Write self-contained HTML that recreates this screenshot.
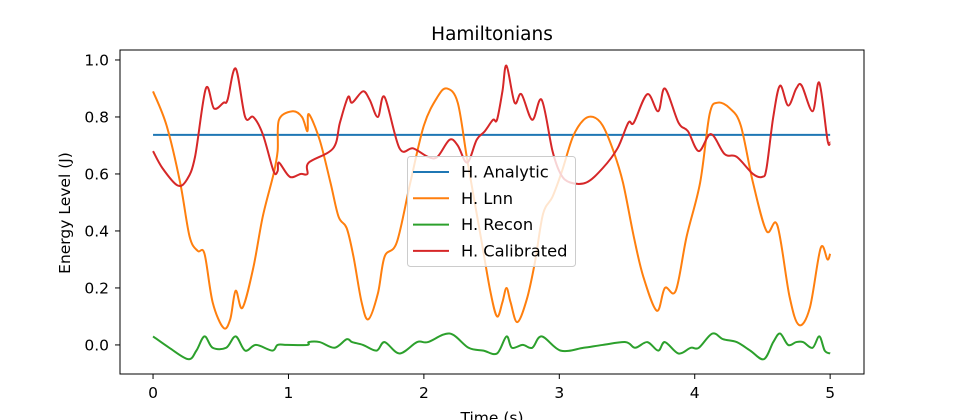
<!DOCTYPE html>
<html><head><meta charset="utf-8"><style>
body{margin:0;background:#fff;}
svg{display:block;font-family:"DejaVu Sans","Liberation Sans",sans-serif;}
</style></head><body>
<svg id="chart" width="960" height="420">
<rect x="0" y="0" width="960" height="420" fill="#fff"/>
<text x="492" y="40" text-anchor="middle" font-size="18.5">Hamiltonians</text>
<g id="plot"></g>
<g id="axes"></g>
<text x="492" y="423" text-anchor="middle" font-size="15.5">Time (s)</text>
<text transform="translate(70,213) rotate(-90)" text-anchor="middle" font-size="15.5">Energy Level (J)</text>
<g id="legend"></g>
</svg>
<script>
const xTicks=[0,1,2,3,4,5];
const yTicks=[0.0,0.2,0.4,0.6,0.8,1.0];
const seriesNames=["H. Analytic","H. Lnn","H. Recon","H. Calibrated"];
const analyticT=[0,5];
const analyticV=[0.737,0.737];
const lnnT=[0,0.10,0.20,0.27,0.33,0.38,0.44,0.52,0.57,0.61,0.66,0.74,0.81,0.89,0.92,0.93,1.03,1.10,1.14,1.15,1.23,1.31,1.37,1.43,1.48,1.54,1.59,1.66,1.71,1.80,1.90,2.0,2.10,2.17,2.25,2.32,2.42,2.49,2.54,2.58,2.61,2.64,2.69,2.76,2.82,2.88,2.95,3.02,3.10,3.18,3.25,3.32,3.40,3.47,3.55,3.62,3.72,3.78,3.86,3.94,4.04,4.11,4.17,4.26,4.34,4.43,4.53,4.61,4.70,4.77,4.85,4.93,4.98,5.0];
const lnnV=[0.89,0.77,0.57,0.38,0.33,0.32,0.15,0.06,0.09,0.19,0.13,0.27,0.45,0.60,0.68,0.79,0.82,0.80,0.75,0.81,0.72,0.57,0.45,0.41,0.31,0.15,0.09,0.18,0.31,0.36,0.57,0.77,0.87,0.90,0.85,0.65,0.38,0.19,0.10,0.15,0.20,0.15,0.08,0.16,0.29,0.46,0.52,0.61,0.73,0.79,0.80,0.77,0.68,0.57,0.38,0.24,0.12,0.20,0.19,0.38,0.57,0.81,0.85,0.83,0.77,0.57,0.40,0.42,0.17,0.07,0.13,0.34,0.30,0.32];
const reconT=[0,0.12,0.26,0.32,0.38,0.44,0.54,0.61,0.68,0.76,0.88,0.92,0.99,1.14,1.15,1.23,1.34,1.43,1.47,1.55,1.65,1.71,1.82,1.95,2.03,2.19,2.33,2.44,2.54,2.61,2.65,2.73,2.80,2.87,3.01,3.18,3.32,3.49,3.56,3.65,3.73,3.78,3.88,3.97,4.03,4.13,4.21,4.31,4.41,4.51,4.58,4.63,4.69,4.75,4.80,4.87,4.92,4.96,5.0];
const reconV=[0.03,-0.01,-0.05,-0.02,0.03,-0.01,-0.01,0.03,-0.02,0.0,-0.02,0.0,0.0,0.0,0.01,0.01,-0.01,0.02,0.01,0.0,-0.02,0.01,-0.03,0.01,0.01,0.04,-0.01,-0.02,-0.03,0.03,-0.01,0.0,-0.01,0.03,-0.02,-0.01,0.0,0.01,-0.01,0.01,-0.02,0.01,-0.03,-0.01,-0.01,0.04,0.02,0.01,-0.02,-0.05,0.01,0.04,0.0,0.01,0.01,-0.01,0.03,-0.02,-0.03];
const calT=[0,0.07,0.18,0.25,0.31,0.39,0.45,0.52,0.55,0.61,0.68,0.74,0.81,0.89,0.92,0.93,1.01,1.09,1.14,1.15,1.33,1.38,1.44,1.47,1.55,1.60,1.66,1.71,1.82,1.92,2.03,2.10,2.19,2.25,2.32,2.39,2.45,2.51,2.54,2.58,2.61,2.67,2.72,2.80,2.87,2.95,3.01,3.08,3.20,3.32,3.43,3.51,3.55,3.65,3.73,3.78,3.88,3.95,4.03,4.12,4.22,4.31,4.43,4.50,4.53,4.58,4.63,4.69,4.75,4.79,4.87,4.92,4.98,5.0];
const calV=[0.68,0.62,0.56,0.58,0.66,0.90,0.83,0.85,0.86,0.97,0.80,0.80,0.74,0.61,0.61,0.64,0.59,0.60,0.60,0.64,0.69,0.78,0.87,0.85,0.89,0.86,0.80,0.87,0.69,0.69,0.66,0.66,0.72,0.70,0.64,0.72,0.75,0.79,0.79,0.89,0.98,0.85,0.88,0.79,0.86,0.68,0.60,0.57,0.57,0.62,0.69,0.78,0.78,0.88,0.82,0.90,0.78,0.75,0.68,0.74,0.67,0.66,0.60,0.59,0.62,0.80,0.91,0.84,0.90,0.91,0.82,0.92,0.72,0.71];
const colors=["#1f77b4","#ff7f0e","#2ca02c","#d62728"];

const NS="http://www.w3.org/2000/svg";
const X0=120,X1=864,Y0=50,Y1=374;
const tMin=-0.244,tMax=5.25,vMin=-0.102,vMax=1.035;
function sx(t){return X0+(t-tMin)/(tMax-tMin)*(X1-X0);}
function sy(v){return Y1-(v-vMin)/(vMax-vMin)*(Y1-Y0);}
function pathFrom(T,V){
  const p=T.map((t,i)=>[sx(t),sy(V[i])]);
  let d="M"+p[0][0].toFixed(2)+","+p[0][1].toFixed(2);
  for(let i=0;i<p.length-1;i++){
    const a=p[Math.max(0,i-1)],b=p[i],c=p[i+1],e=p[Math.min(p.length-1,i+2)];
    const c1x=b[0]+(c[0]-a[0])/6,c1y=b[1]+(c[1]-a[1])/6;
    const c2x=c[0]-(e[0]-b[0])/6,c2y=c[1]-(e[1]-b[1])/6;
    d+=" C"+c1x.toFixed(2)+","+c1y.toFixed(2)+" "+c2x.toFixed(2)+","+c2y.toFixed(2)+" "+c[0].toFixed(2)+","+c[1].toFixed(2);
  }
  return d;
}
const plot=document.getElementById("plot");
const data=[[analyticT,analyticV],[lnnT,lnnV],[reconT,reconV],[calT,calV]];
const lineNames=["analytic-line","lnn-line","recon-line","calibrated-line"];
data.forEach((s,i)=>{
  const el=document.createElementNS(NS,"path");
  el.setAttribute("d",pathFrom(s[0],s[1]));
  el.setAttribute("fill","none");
  el.setAttribute("stroke",colors[i]);
  el.setAttribute("stroke-width","2");
  
  
  plot.appendChild(el);
});
const axes=document.getElementById("axes");
const frame=document.createElementNS(NS,"rect");
frame.setAttribute("x",X0);frame.setAttribute("y",Y0);
frame.setAttribute("width",X1-X0);frame.setAttribute("height",Y1-Y0);
frame.setAttribute("fill","none");frame.setAttribute("stroke","#000");frame.setAttribute("stroke-width","1");


axes.appendChild(frame);
xTicks.forEach(t=>{
  const x=sx(t);
  const l=document.createElementNS(NS,"line");
  l.setAttribute("x1",x);l.setAttribute("x2",x);l.setAttribute("y1",Y1);l.setAttribute("y2",Y1+5);
  l.setAttribute("stroke","#000");
  
  
  axes.appendChild(l);
  const tx=document.createElementNS(NS,"text");
  tx.setAttribute("x",x);tx.setAttribute("y",Y1+24);tx.setAttribute("text-anchor","middle");tx.setAttribute("font-size","15.5");
  tx.textContent=String(t);
  
  
  axes.appendChild(tx);
});
yTicks.forEach(v=>{
  const y=sy(v);
  const l=document.createElementNS(NS,"line");
  l.setAttribute("x1",X0-5);l.setAttribute("x2",X0);l.setAttribute("y1",y);l.setAttribute("y2",y);
  l.setAttribute("stroke","#000");
  
  
  axes.appendChild(l);
  const tx=document.createElementNS(NS,"text");
  tx.setAttribute("x",X0-11);tx.setAttribute("y",y+5.5);tx.setAttribute("text-anchor","end");tx.setAttribute("font-size","15.5");
  tx.textContent=v.toFixed(1);
  
  
  axes.appendChild(tx);
});
const lg=document.getElementById("legend");
const box=document.createElementNS(NS,"rect");
box.setAttribute("x",407.5);box.setAttribute("y",156.5);box.setAttribute("width",168);box.setAttribute("height",110);
box.setAttribute("rx",3);box.setAttribute("fill","rgba(255,255,255,0.8)");box.setAttribute("stroke","#ccc");


lg.appendChild(box);
seriesNames.forEach((n,i)=>{
  const y=172+i*26.3;
  const l=document.createElementNS(NS,"line");
  l.setAttribute("x1",413);l.setAttribute("x2",449);l.setAttribute("y1",y);l.setAttribute("y2",y);
  l.setAttribute("stroke",colors[i]);l.setAttribute("stroke-width","2");
  
  
  lg.appendChild(l);
  const tx=document.createElementNS(NS,"text");
  tx.setAttribute("x",461);tx.setAttribute("y",y+5.5);tx.setAttribute("font-size","16.3");
  tx.textContent=n;
  
  
  lg.appendChild(tx);
});
</script>
</body></html>
